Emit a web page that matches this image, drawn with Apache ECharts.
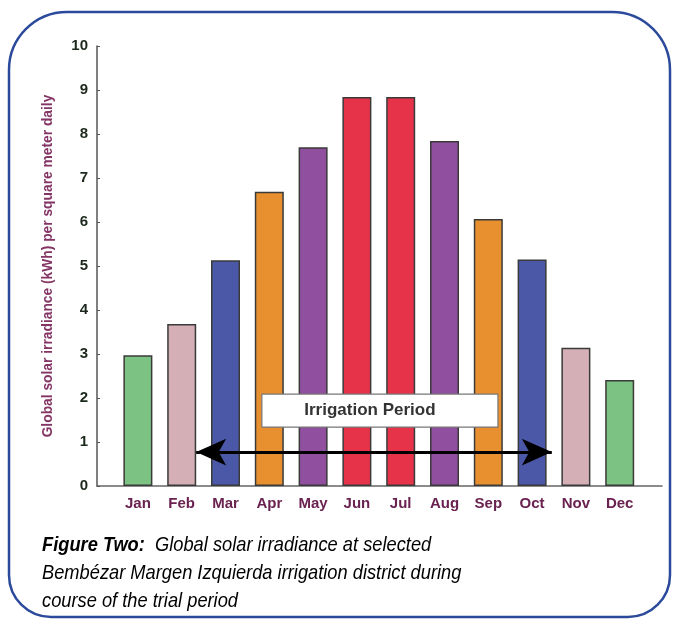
<!DOCTYPE html>
<html><head><meta charset="utf-8">
<script src="https://cdn.jsdelivr.net/npm/echarts@6/dist/echarts.min.js"></script>
<style>html,body{margin:0;padding:0;background:#fff}#c{width:680px;height:629px}</style>
</head><body><div id="c"></div>
<script>
const months = ['Jan','Feb','Mar','Apr','May','Jun','Jul','Aug','Sep','Oct','Nov','Dec'];
const irradiance = [2.97, 3.68, 5.13, 6.69, 7.70, 8.84, 8.84, 7.84, 6.07, 5.15, 3.14, 2.41];
const barColors = ['#7cc283','#d4afb6','#4b58a8','#e8902f','#904f9f','#e7334a','#e7334a','#904f9f','#e8902f','#4b58a8','#d4afb6','#7cc283'];
const yTicks = [0,1,2,3,4,5,6,7,8,9,10];
const arrowSpan = [1.33, 9.45];   // in month-index units
const arrowLevel = [0.77];
const boxSpanX = [2.83, 8.22];
const boxSpanY = [1.34, 2.09];
const periodLabel = 'Irrigation Period';
const yTitle = 'Global solar irradiance (kWh) per square meter daily';
const captionBold = 'Figure Two:';
const captionLines = ['  Global solar irradiance at selected', 'Bembézar Margen Izquierda irrigation district during', 'course of the trial period'];

const chart = echarts.init(document.getElementById('c'));
const ff = 'Liberation Sans, Arial, sans-serif';
const capFont = '"Liberation Sans", Arial, sans-serif';
chart.setOption({
  animation: false,
  grid: [
    {left: 116, right: 38.4, top: 46, bottom: 143},
    {left: 97, right: 18, top: 46, bottom: 143}
  ],
  xAxis: [
    {type: 'category', gridIndex: 0, data: months, boundaryGap: true,
     axisLine: {show: false}, axisTick: {show: false},
     axisLabel: {color: '#6a2250', fontFamily: ff, fontWeight: 'bold', fontSize: 15, margin: 10}},
    {type: 'value', gridIndex: 1, min: -0.934, max: 11.966,
     axisLine: {show: true, onZero: false, lineStyle: {color: '#666', width: 1.5}},
     axisTick: {show: false}, axisLabel: {show: false}, splitLine: {show: false}}
  ],
  yAxis: [
    {type: 'value', gridIndex: 0, min: 0, max: 10, interval: 1, show: false},
    {type: 'value', gridIndex: 1, min: 0, max: 10, interval: 1,
     axisLine: {show: true, onZero: false, lineStyle: {color: '#555', width: 1.5}},
     axisTick: {show: true, inside: true, length: 3, lineStyle: {color: '#555'}},
     splitLine: {show: false},
     axisLabel: {color: '#1c281c', fontFamily: ff, fontWeight: 'bold', fontSize: 15, margin: 9,
       formatter: v => yTicks.includes(v) ? String(v) : ''},
     name: yTitle, nameLocation: 'middle', nameGap: 42, nameRotate: 90,
     nameTextStyle: {color: '#843565', fontFamily: ff, fontWeight: 'bold', fontSize: 13.8}}
  ],
  series: [
    {type: 'bar', xAxisIndex: 0, yAxisIndex: 0, barWidth: 29, z: 2,
     data: irradiance.map((v, i) => ({value: v, itemStyle: {color: barColors[i]}})),
     itemStyle: {borderColor: '#3a3a3a', borderWidth: 1.5}},
    {type: 'custom', xAxisIndex: 1, yAxisIndex: 1, z: 10, silent: true,
     data: [[boxSpanX[0], boxSpanY[1], boxSpanX[1], boxSpanY[0]]],
     renderItem: function (params, api) {
       const p1 = api.coord([api.value(0), api.value(1)]);
       const p2 = api.coord([api.value(2), api.value(3)]);
       return {
         type: 'group', children: [
           {type: 'rect', shape: {x: p1[0], y: p1[1], width: p2[0] - p1[0], height: p2[1] - p1[1]},
            style: {fill: '#fff', stroke: '#777', lineWidth: 1.2}},
           {type: 'text', x: (p1[0] + p2[0]) / 2 - 10, y: (p1[1] + p2[1]) / 2,
            style: {text: periodLabel, align: 'center', verticalAlign: 'middle',
              font: 'bold 17px ' + ff, fill: '#333'}}
         ]};
     }},
    {type: 'line', xAxisIndex: 1, yAxisIndex: 1, data: [], silent: true, z: 11,
     markLine: {silent: true, symbol: ['arrow', 'arrow'], symbolSize: [20, 30],
       lineStyle: {color: '#000', width: 3, type: 'solid'},
       label: {show: false},
       data: [[{coord: [arrowSpan[0], arrowLevel[0]]}, {coord: [arrowSpan[1], arrowLevel[0]]}]]}}
  ],
  graphic: [
    {type: 'rect', z: -1, shape: {x: 9, y: 12, width: 661, height: 605, r: [58, 58, 42, 42]},
     style: {fill: 'none', stroke: '#2c4a9b', lineWidth: 2.5}},
    {type: 'text', x: 42, y: 531, scaleX: 0.87, style: {
      text: '{b|' + captionBold + '}{i|' + captionLines[0] + '}\n{i|' + captionLines[1] + '}\n{i|' + captionLines[2] + '}',
      rich: {
        b: {font: 'italic bold 21px ' + capFont, fill: '#000', lineHeight: 28},
        i: {font: 'italic 21px ' + capFont, fill: '#000', lineHeight: 28}
      }}}
  ]
});
</script></body></html>
